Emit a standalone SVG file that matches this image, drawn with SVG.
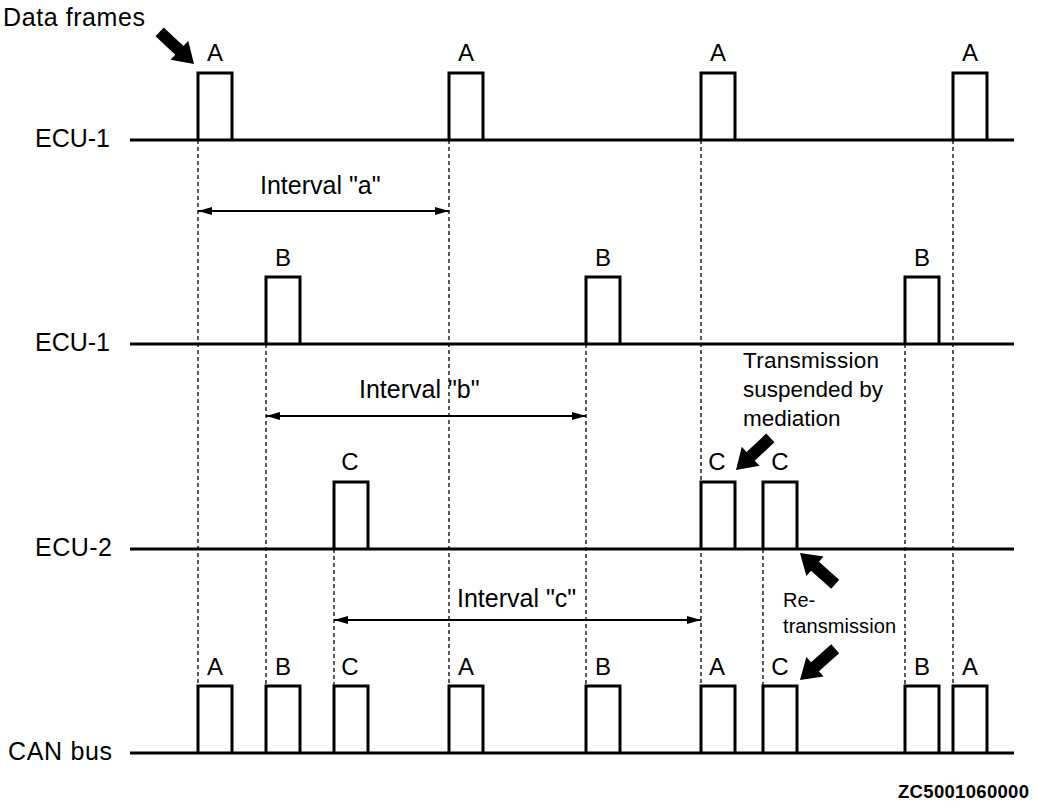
<svg xmlns="http://www.w3.org/2000/svg" xmlns:xlink="http://www.w3.org/1999/xlink" width="1038" height="810" viewBox="0 0 1038 810">
<style>
text{font-family:"Liberation Sans",Arial,sans-serif;fill:#000}
.lbl{font-size:25px}
.pl{font-size:24px;text-anchor:middle}
.note{font-size:22.5px}
.re{font-size:20px}
.code{font-size:18.5px;font-weight:bold;text-anchor:end}
.base{stroke:#000;stroke-width:3;fill:none}
.pulse{stroke:#000;stroke-width:3;fill:none;stroke-linejoin:miter}
.dash{stroke:#000;stroke-width:1.3;stroke-dasharray:4 3;fill:none}
.iv{stroke:#000;stroke-width:2;fill:none;marker-start:url(#ah);marker-end:url(#ah)}
</style>
<defs>
<marker id="ah" viewBox="0 0 14 8" refX="14" refY="4" markerWidth="14" markerHeight="8" markerUnits="userSpaceOnUse" orient="auto-start-reverse">
<path d="M0,0 L14,4 L0,8 z" fill="#000"/>
</marker>
<polygon id="bigarrow" points="0,0 -20,-13 -20,-6 -47,-6 -47,6 -20,6 -20,13" fill="#000"/>
</defs>
<rect width="1038" height="810" fill="#fff"/>

<g id="connectors">
<path class="dash" d="M198,140 V685 M449,140 V685 M701,140 V685 M953,140 V685 M266,344 V685 M586,344 V685 M905,344 V685 M334,549 V685 M763,549 V685"/>
<line class="iv" x1="198" y1="211" x2="449" y2="211"/>
<line class="iv" x1="266" y1="416" x2="586" y2="416"/>
<line class="iv" x1="334" y1="620" x2="701" y2="620"/>
<use xlink:href="#bigarrow" transform="translate(194,64) rotate(43)"/>
<use xlink:href="#bigarrow" transform="translate(736,470) rotate(137)"/>
<use xlink:href="#bigarrow" transform="translate(800,553) rotate(221.5)"/>
<use xlink:href="#bigarrow" transform="translate(800,680) rotate(138.5)"/>
</g>

<g id="trace-ecu1a">
<text class="lbl" x="110" y="147" text-anchor="end" textLength="75">ECU-1</text>
<line class="base" x1="130" y1="140" x2="1014" y2="140"/>
<path class="pulse" d="M198,140 V73 H232 V140 M449,140 V73 H483 V140 M701,140 V73 H735 V140 M953,140 V73 H987 V140"/>
<text class="pl" x="215" y="61">A</text>
<text class="pl" x="466" y="61">A</text>
<text class="pl" x="718" y="61">A</text>
<text class="pl" x="970" y="61">A</text>
</g>

<g id="trace-ecu1b">
<text class="lbl" x="110" y="351" text-anchor="end" textLength="75">ECU-1</text>
<line class="base" x1="130" y1="344" x2="1014" y2="344"/>
<path class="pulse" d="M266,344 V277 H300 V344 M586,344 V277 H620 V344 M905,344 V277 H939 V344"/>
<text class="pl" x="283" y="266">B</text>
<text class="pl" x="603" y="266">B</text>
<text class="pl" x="922" y="266">B</text>
</g>

<g id="trace-ecu2">
<text class="lbl" x="112" y="556" text-anchor="end" textLength="77">ECU-2</text>
<line class="base" x1="130" y1="549" x2="1014" y2="549"/>
<path class="pulse" d="M334,549 V482 H368 V549 M701,549 V482 H735 V549 M763,549 V482 H797 V549"/>
<text class="pl" x="350" y="470">C</text>
<text class="pl" x="717" y="470">C</text>
<text class="pl" x="780" y="470">C</text>
</g>

<g id="trace-can">
<text class="lbl" x="112" y="760" text-anchor="end" textLength="104">CAN bus</text>
<line class="base" x1="130" y1="753" x2="1014" y2="753"/>
<path class="pulse" d="M198,753 V686 H232 V753 M266,753 V686 H300 V753 M334,753 V686 H368 V753 M449,753 V686 H483 V753 M586,753 V686 H620 V753 M701,753 V686 H735 V753 M763,753 V686 H797 V753 M905,753 V686 H939 V753 M953,753 V686 H987 V753"/>
<text class="pl" x="215" y="675">A</text>
<text class="pl" x="283" y="675">B</text>
<text class="pl" x="350" y="675">C</text>
<text class="pl" x="466" y="675">A</text>
<text class="pl" x="603" y="675">B</text>
<text class="pl" x="717" y="675">A</text>
<text class="pl" x="780" y="675">C</text>
<text class="pl" x="922" y="675">B</text>
<text class="pl" x="970" y="675">A</text>
</g>

<g id="labels">
<text class="lbl" x="3" y="26" textLength="142">Data frames</text>
<text class="lbl" x="260" y="194">Interval "a"</text>
<text class="lbl" x="359" y="398">Interval "b"</text>
<text class="lbl" x="457" y="607">Interval "c"</text>
<text class="note" x="743" y="368" textLength="136">Transmission</text>
<text class="note" x="743" y="397">suspended by</text>
<text class="note" x="743" y="426">mediation</text>
<text class="re" x="783" y="607">Re-</text>
<text class="re" x="783" y="633" textLength="113">transmission</text>
<text class="code" x="1029" y="798" textLength="131">ZC5001060000</text>
</g>
</svg>
